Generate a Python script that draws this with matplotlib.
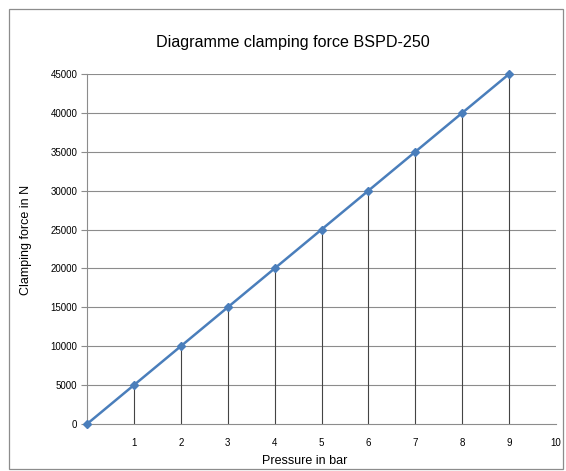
import matplotlib.pyplot as plt
from matplotlib.patches import Rectangle

plt.rcParams['font.family'] = ['Liberation Sans', 'DejaVu Sans']

# data
pressure = [0, 1, 2, 3, 4, 5, 6, 7, 8, 9]
force = [0, 5000, 10000, 15000, 20000, 25000, 30000, 35000, 40000, 45000]
x_ticks = [1, 2, 3, 4, 5, 6, 7, 8, 9, 10]
y_ticks = [0, 5000, 10000, 15000, 20000, 25000, 30000, 35000, 40000, 45000]

fig = plt.figure(figsize=(5.66, 4.71), dpi=100)
fig.patches.append(Rectangle((9 / 566, 2 / 471), 554 / 566, 460 / 471,
                             transform=fig.transFigure, fill=False,
                             edgecolor='#8c8c8c', linewidth=0.9))
ax = fig.add_axes([87 / 566, 1 - 424 / 471, 469 / 566, 350 / 471])

# gridlines
for y in y_ticks[1:]:
    ax.axhline(y, color='#8c8c8c', linewidth=0.8, zorder=1)

# drop lines
ax.vlines(pressure[1:], 0, force[1:], color='#444444', linewidth=0.8, zorder=2)

ax.plot(pressure, force, color='#4a7ebb', linewidth=1.8, marker='D',
        markersize=4, zorder=3, clip_on=False)

ax.set_xlim(0, 10)
ax.set_ylim(0, 45000)
ax.set_xticks(x_ticks)
ax.set_yticks(y_ticks)
ax.tick_params(axis='x', length=0, labelsize=7, pad=10)
ax.tick_params(axis='y', length=4, width=0.8, color='#8c8c8c', labelsize=7, pad=3)
for s in ['top', 'right']:
    ax.spines[s].set_visible(False)
ax.spines['left'].set_color('#8c8c8c')
ax.spines['bottom'].set_color('#8c8c8c')

fig.text(293 / 566, 1 - 42 / 471, 'Diagramme clamping force BSPD-250',
         ha='center', va='center', fontsize=11.6)
fig.text(305 / 566, 1 - 461 / 471, 'Pressure in bar', ha='center',
         va='center', fontsize=9)
fig.text(26 / 566, 1 - 240 / 471, 'Clamping force in N', ha='center',
         va='center', rotation=90, fontsize=9)

fig.savefig('out.png', dpi=100)
